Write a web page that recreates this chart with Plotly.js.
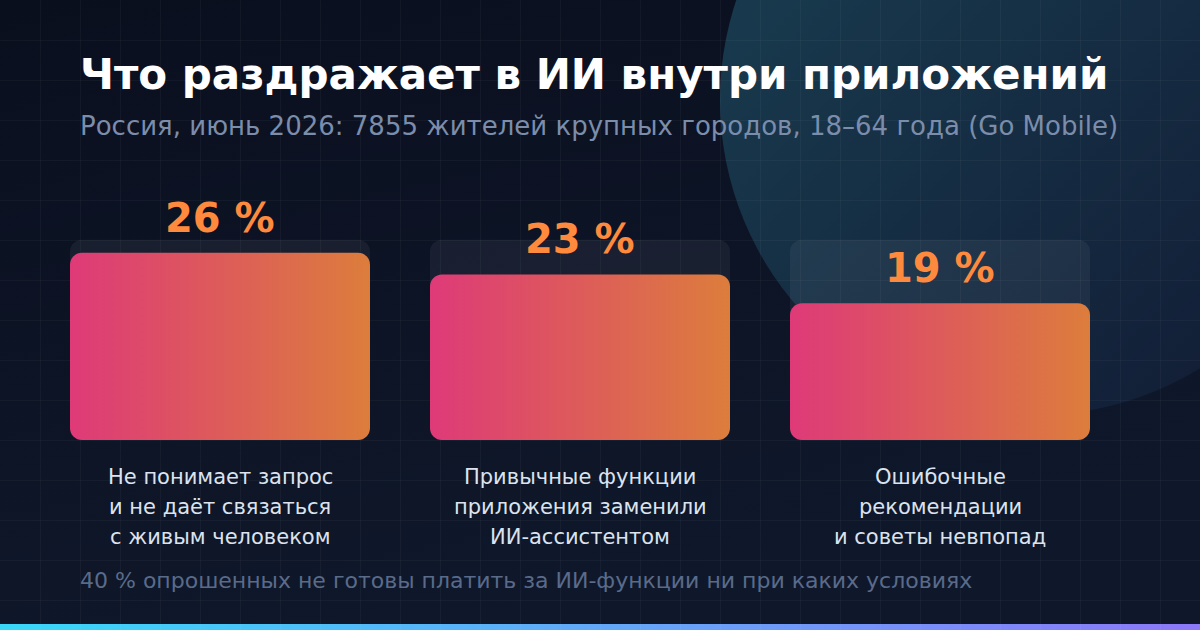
<!DOCTYPE html>
<html>
<head>
<meta charset="utf-8">
<script src="https://cdn.plot.ly/plotly-3.0.1.min.js"></script>
<style>
  html, body { margin: 0; padding: 0; background: #0c1222; }
  #chart { width: 1200px; height: 630px; }
</style>
</head>
<body>
<div id="chart"></div>
<script>
// ---- data ----
const categories = [
  'Не понимает запрос и не даёт связаться с живым человеком',
  'Привычные функции приложения заменили ИИ-ассистентом',
  'Ошибочные рекомендации и советы невпопад'
];
const categoryLines = [
  ['Не понимает запрос', 'и не даёт связаться', 'с живым человеком'],
  ['Привычные функции', 'приложения заменили', 'ИИ-ассистентом'],
  ['Ошибочные', 'рекомендации', 'и советы невпопад']
];
const values = [26, 23, 19];
const valueSuffix = ' %';
const trackValue = 27.8;
const titleText = 'Что раздражает в ИИ внутри приложений';
const subtitleText = 'Россия, июнь 2026: 7855 жителей крупных городов, 18–64 года (Go Mobile)';
const footerText = '40 % опрошенных не готовы платить за ИИ-функции ни при каких условиях';

// ---- layout constants ----
const W = 1200, H = 630;
const FONT = 'DejaVu Sans, Verdana, sans-serif';
const barWidth = 300 / 360;

const traces = [
  // invisible trace that creates the background grid subplot
  { type: 'scatter', x: [0], y: [0], mode: 'markers', marker: { opacity: 0 },
    hoverinfo: 'skip', showlegend: false, xaxis: 'x', yaxis: 'y' },
  // translucent track cards
  { type: 'bar', x: categories, y: categories.map(() => trackValue), base: 0,
    width: barWidth, xaxis: 'x2', yaxis: 'y2', hoverinfo: 'skip', showlegend: false,
    marker: { color: 'rgba(255,255,255,0.055)', cornerradius: 12, line: { width: 0 } } },
  // value bars
  { type: 'bar', x: categories, y: values, base: 0,
    width: barWidth, xaxis: 'x2', yaxis: 'y2', hoverinfo: 'skip', showlegend: false,
    marker: { color: '#dd5b5a', cornerradius: 12, line: { width: 0 } } }
];

const annotations = [];
annotations.push({ xref: 'paper', yref: 'paper', x: 78 / W, y: 1 - 74 / H, xanchor: 'left', yanchor: 'middle',
  text: titleText, showarrow: false, font: { family: FONT, size: 42, color: '#ffffff', weight: 'bold' } });
annotations.push({ xref: 'paper', yref: 'paper', x: 78 / W, y: 1 - 126 / H, xanchor: 'left', yanchor: 'middle',
  text: subtitleText, showarrow: false, font: { family: FONT, size: 26, color: '#7b8dab' } });
annotations.push({ xref: 'paper', yref: 'paper', x: 78 / W, y: 1 - 580.5 / H, xanchor: 'left', yanchor: 'middle',
  text: footerText, showarrow: false, font: { family: FONT, size: 22, color: '#5a6b8a' } });

categories.forEach((c, i) => {
  annotations.push({ xref: 'x2', yref: 'y2', x: c, y: values[i], xanchor: 'center', yanchor: 'middle',
    yshift: 35, text: values[i] + valueSuffix, showarrow: false,
    font: { family: FONT, size: 40, color: '#ff8a3d', weight: 'bold' } });
  categoryLines[i].forEach((line, j) => {
    annotations.push({ xref: 'x2', yref: 'y2', x: c, y: 0, xanchor: 'center', yanchor: 'middle',
      yshift: -(37 + 30 * j), text: line, showarrow: false,
      font: { family: FONT, size: 21, color: '#dce3ee' } });
  });
});

const hiddenGridAxis = {
  showgrid: true, gridcolor: 'rgba(255,255,255,0.035)', gridwidth: 1,
  zeroline: false, showline: false, showticklabels: false, ticks: '',
  tick0: 0, dtick: 40, fixedrange: true
};

const layout = {
  width: W, height: H,
  margin: { l: 0, r: 0, t: 0, b: 0, pad: 0 },
  paper_bgcolor: '#0c1222',
  plot_bgcolor: 'rgba(0,0,0,0)',
  showlegend: false,
  barmode: 'overlay',
  xaxis: Object.assign({}, hiddenGridAxis, { range: [0, W], domain: [0, 1] }),
  yaxis: Object.assign({}, hiddenGridAxis, { range: [H, 0], domain: [0, 1] }),
  xaxis2: { type: 'category', domain: [40 / W, 1120 / W], range: [-0.5, 2.5], visible: false,
    anchor: 'y2', fixedrange: true },
  yaxis2: { domain: [(H - 440) / H, (H - 200) / H], range: [0, 240 / 7.2], visible: false,
    anchor: 'x2', fixedrange: true },
  shapes: [
    { type: 'rect', xref: 'paper', yref: 'paper', x0: 0, x1: 1, y0: 0, y1: 1,
      fillcolor: '#0d1424', line: { width: 0 }, layer: 'below' },
    { type: 'circle', xref: 'paper', yref: 'paper', x0: 720 / W, x1: 1350 / W,
      y0: 1 - 415 / H, y1: 1 + 215 / H, fillcolor: '#163246', line: { width: 0 }, layer: 'below' },
    { type: 'rect', xref: 'paper', yref: 'paper', x0: 0, x1: 1, y0: 0, y1: 6 / H,
      fillcolor: '#5fa8f8', line: { width: 0 }, layer: 'below' }
  ],
  annotations: annotations
};

function addGradient(defs, id, stops, x2, y2) {
  const ns = 'http://www.w3.org/2000/svg';
  const g = document.createElementNS(ns, 'linearGradient');
  g.setAttribute('id', id);
  g.setAttribute('x1', '0'); g.setAttribute('y1', '0');
  g.setAttribute('x2', x2); g.setAttribute('y2', y2);
  stops.forEach(s => {
    const st = document.createElementNS(ns, 'stop');
    st.setAttribute('offset', s[0]);
    st.setAttribute('stop-color', s[1]);
    g.appendChild(st);
  });
  defs.appendChild(g);
}

const gd = document.getElementById('chart');
Plotly.newPlot(gd, traces, layout, { staticPlot: true, displayModeBar: false }).then(() => {
  const svg = gd.querySelector('svg.main-svg');
  let defs = svg.querySelector('defs');
  if (!defs) { defs = document.createElementNS('http://www.w3.org/2000/svg', 'defs'); svg.insertBefore(defs, svg.firstChild); }
  addGradient(defs, 'gBar', [[0, '#de3a78'], [1, '#dc7d3c']], '1', '0');
  addGradient(defs, 'gBg', [[0, '#0a0f1e'], [1, '#0f182b']], '0.4', '1');
  addGradient(defs, 'gCircle', [[0.2, '#18394d'], [0.85, '#121f37']], '1', '1');
  addGradient(defs, 'gStrip', [[0, '#38d8f8'], [1, '#8c78f8']], '1', '0');

  const barGroups = gd.querySelectorAll('.barlayer g.trace.bars');
  barGroups.forEach((grp, k) => {
    if (k === 0) return;
    grp.querySelectorAll('path').forEach(p => { p.style.fill = 'url(#gBar)'; p.style.fillOpacity = 1; });
  });
  const shapeFills = { '0': 'gBg', '1': 'gCircle', '2': 'gStrip' };
  gd.querySelectorAll('.shapelayer path[data-index]').forEach(p => {
    const id = shapeFills[p.getAttribute('data-index')];
    if (id) { p.style.fill = 'url(#' + id + ')'; p.style.fillOpacity = 1; }
  });
});
</script>
</body>
</html>
